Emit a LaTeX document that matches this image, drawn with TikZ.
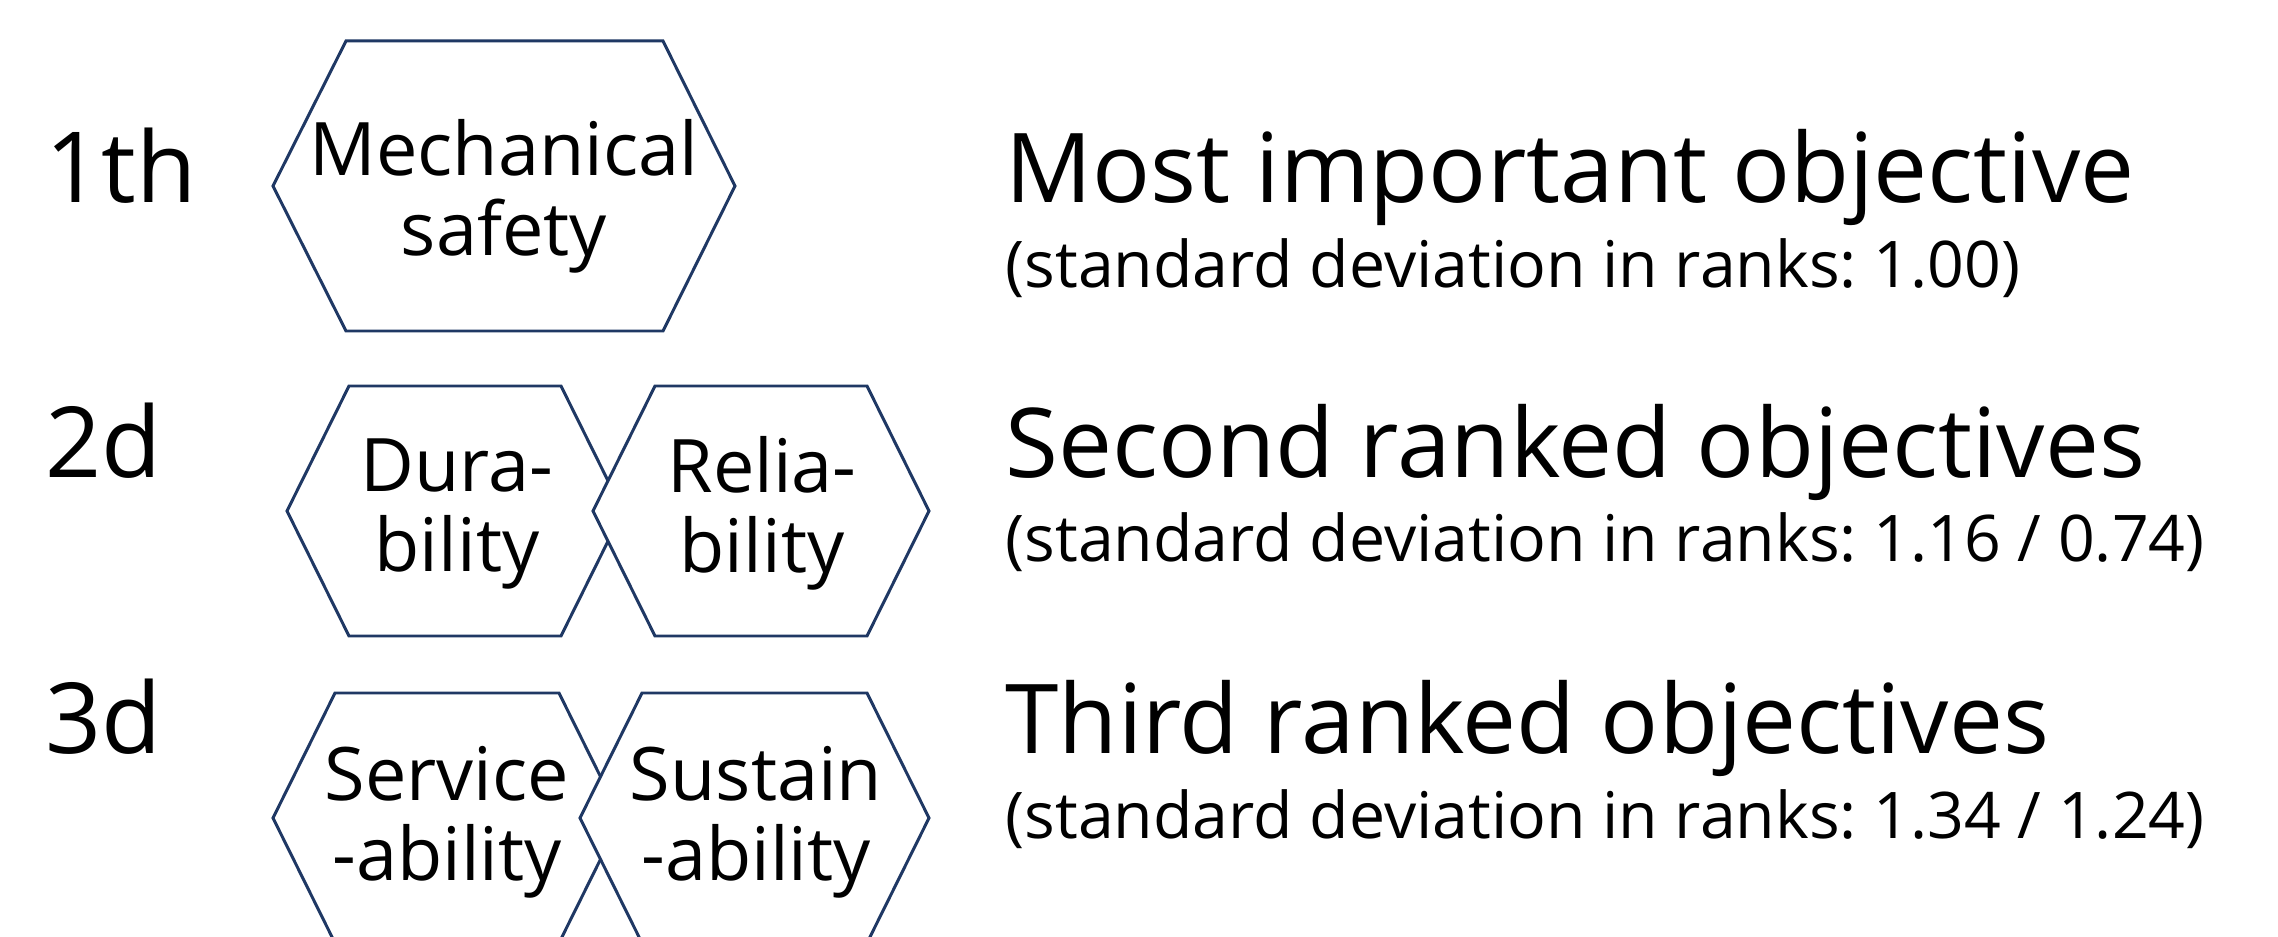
\documentclass[tikz,border=0pt]{standalone}
\usepackage{fontspec}
\setmainfont{Open Sans}
\frenchspacing

\definecolor{hexblue}{HTML}{1F3864}

\tikzset{
  hexline/.style={draw=hexblue, line width=0.85pt, fill=white},
  hextext/.style={inner sep=0pt, align=center, font=\fontsize{21}{22.8}\selectfont},
  ranklabel/.style={inner sep=0pt, anchor=base west, font=\fontsize{27.9}{30}\selectfont},
  headline/.style={inner sep=0pt, anchor=base west, font=\fontsize{27.4}{30}\selectfont},
  subline/.style={inner sep=0pt, anchor=base west, font=\fontsize{18.3}{20}\selectfont}
}

\begin{document}
\begin{tikzpicture}[x=0.01cm, y=-0.01cm]
    \useasboundingbox (0,0) rectangle (2278,937);
    \clip (0,0) rectangle (2278,937);

    % Rank numbers
    \foreach \rk/\y/\n in {1th/203/1, 2d/478/2, 3d/753/3}
      \node[ranklabel] (rank\n) at (45,\y) {\rk};

    % First rank
    \filldraw[hexline] (273,186) -- (346,41) -- (663,41) -- (735,186)
      -- (663,331) -- (346,331) -- cycle;
    \node[hextext] (mech) at (504,196) {Mechanical\\safety};

    % Second rank
    \filldraw[hexline] (287,511) -- (349,386) -- (561,386) -- (623,511)
      -- (561,636) -- (349,636) -- cycle;
    \node[hextext] (dura) at (457,514) {Dura-\\bility};
    \filldraw[hexline] (593,511) -- (655,386) -- (867,386) -- (929,511)
      -- (867,636) -- (655,636) -- cycle;
    \node[hextext] (relia) at (762,513) {Relia-\\bility};

    % Third rank
    \filldraw[hexline] (273,818) -- (335,693) -- (559,693) -- (621,818)
      -- (559,943) -- (335,943) -- cycle;
    \node[hextext] (serv) at (447,822) {Service\\-ability};
    \filldraw[hexline] (580,818) -- (642,693) -- (867,693) -- (929,818)
      -- (867,943) -- (642,943) -- cycle;
    \node[hextext] (sust) at (756,822) {Sustain\\-ability};

    % Descriptions
    \node[headline] (head1) at (1005,203) {Most important objective};
    \node[subline] (sd1) at (1005,288) {(standard deviation in ranks: 1.00)};
    \node[headline] (head2) at (1005,478) {Second ranked objectives};
    \node[subline] (sd2) at (1005,562) {(standard deviation in ranks: 1.16 / 0.74)};
    \node[headline] (head3) at (1005,753) {Third ranked objectives};
    \node[subline] (sd3) at (1005,838) {(standard deviation in ranks: 1.34 / 1.24)};
  \end{tikzpicture}
\end{document}
